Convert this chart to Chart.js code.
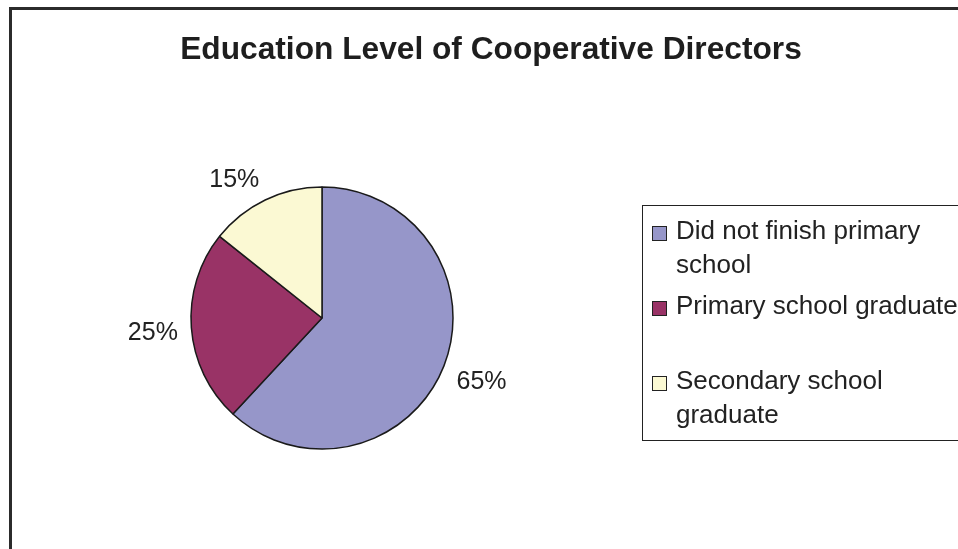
<!DOCTYPE html>
<html>
<head>
<meta charset="utf-8">
<script src="https://cdn.jsdelivr.net/npm/chart.js@4.4.1/dist/chart.umd.min.js"></script>
<style>
    html, body { margin: 0; padding: 0; background: #fff; }
    #wrap { position: relative; width: 958px; height: 549px; overflow: hidden; background: #fff; }
    #chartCanvas { position: absolute; left: 0; top: 0; }
    /* outer chart frame, runs off the right and bottom edges */
    #frame { position: absolute; left: 9px; top: 7px; width: 1000px; height: 600px;
             border-left: 3px solid #2b2b2b; border-top: 3px solid #2b2b2b; pointer-events: none; }
    #legend { position: absolute; left: 642px; top: 205px; width: 340px; height: 236px;
              border: 1.3px solid #222; box-sizing: border-box; padding-top: 7px;
              font-family: "Liberation Sans", Arial, sans-serif; font-size: 26px; color: #222; }
    .item { display: flex; align-items: flex-start; height: 68px; margin-bottom: 7px; }
    .box { width: 13px; height: 13px; border: 1px solid #222; margin: 13px 9px 0 9px; flex: none; }
    .text { width: 290px; line-height: 34px; }
</style>
</head>
<body>
<div id="wrap">
    <canvas id="chartCanvas" width="958" height="549"></canvas>
    <div id="frame"></div>
    <div id="legend"></div>
</div>
<script>
    // Education levels and their shares (%)
    const categories = ['Did not finish primary school', 'Primary school graduate', 'Secondary school graduate'];
    const shares = [65, 25, 15];
    const colors = ['#9696C9', '#993366', '#FBF9D3'];
    const chartTitle = 'Education Level of Cooperative Directors';

    const FONT = '"Liberation Sans", Arial, sans-serif';

    // Title drawn straight onto the canvas, centred on the frame
    const titlePlugin = {
        id: 'frameTitle',
        afterDraw(chart) {
            const ctx = chart.ctx;
            ctx.save();
            ctx.font = 'bold 31.7px ' + FONT;
            ctx.fillStyle = '#1e1e1e';
            ctx.textAlign = 'center';
            ctx.textBaseline = 'alphabetic';
            ctx.fillText(chartTitle, 491, 59);
            ctx.restore();
        }
    };

    // Percentage labels outside each slice: the label box corner nearest the pie
    // sits on the slice's middle ray, a little beyond the rim
    const outsideLabels = {
        id: 'outsideLabels',
        afterDatasetsDraw(chart) {
            const ctx = chart.ctx;
            const meta = chart.getDatasetMeta(0);
            const clamp = (v) => Math.max(-1, Math.min(1, v * 3));
            ctx.save();
            ctx.font = '25px ' + FONT;
            ctx.fillStyle = '#222';
            ctx.textAlign = 'center';
            ctx.textBaseline = 'alphabetic';
            meta.data.forEach((arc, i) => {
                const p = arc.getProps(['x', 'y', 'startAngle', 'endAngle', 'outerRadius'], true);
                const mid = (p.startAngle + p.endAngle) / 2;
                const txt = shares[i] + '%';
                const halfW = ctx.measureText(txt).width / 2;
                const halfH = 9.5;
                const dx = Math.cos(mid), dy = Math.sin(mid);
                const ax = p.x + dx * (p.outerRadius + 13.5);
                const ay = p.y + dy * (p.outerRadius + 13.5);
                const cx = ax + clamp(dx) * halfW;
                const cy = ay + clamp(dy) * halfH;
                ctx.fillText(txt, cx, cy + 9);
            });
            ctx.restore();
        }
    };

    function buildLegend() {
        const el = document.getElementById('legend');
        categories.forEach((c, i) => {
            const item = document.createElement('div');
            item.className = 'item';
            const box = document.createElement('div');
            box.className = 'box';
            box.style.background = colors[i];
            const txt = document.createElement('div');
            txt.className = 'text';
            txt.textContent = c;
            item.appendChild(box);
            item.appendChild(txt);
            el.appendChild(item);
        });
    }

    function draw() {
        const ctx = document.getElementById('chartCanvas');
        window.myChart = new Chart(ctx, {
            type: 'pie',
            data: {
                labels: categories,
                datasets: [{
                    data: shares,
                    backgroundColor: colors,
                    borderColor: '#1a1a1a',
                    borderWidth: 1.5,
                    radius: 131
                }]
            },
            options: {
                responsive: false,
                animation: false,
                layout: { padding: { top: 87, right: 314, left: 0, bottom: 0 } },
                plugins: {
                    legend: { display: false },
                    title: { display: false },
                    tooltip: { enabled: false }
                }
            },
            plugins: [titlePlugin, outsideLabels]
        });
    }

    buildLegend();
    draw();
</script>
</body>
</html>
